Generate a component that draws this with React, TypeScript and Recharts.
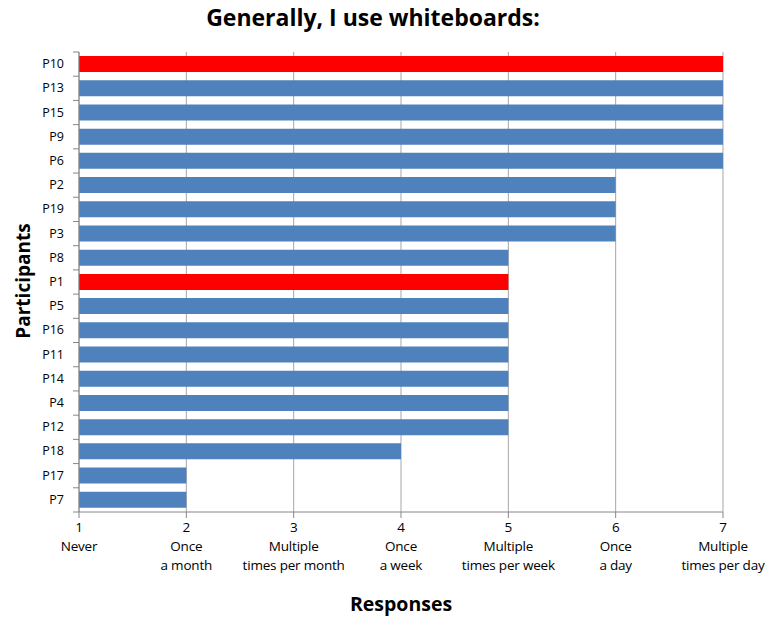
import { BarChart, Bar, Cell, XAxis, YAxis, CartesianGrid } from 'recharts'

// Participants, listed top to bottom
const participants = [
  'P10', 'P13', 'P15', 'P9', 'P6', 'P2', 'P19', 'P3', 'P8', 'P1',
  'P5', 'P16', 'P11', 'P14', 'P4', 'P12', 'P18', 'P17', 'P7',
]
// Response on the 1..7 frequency scale
const responses = [7, 7, 7, 7, 7, 6, 6, 6, 5, 5, 5, 5, 5, 5, 5, 5, 4, 2, 2]
const highlighted = ['P10', 'P1']

const scaleTicks = [1, 2, 3, 4, 5, 6, 7]
const scaleLabels: Record<number, [string, string]> = {
  1: ['Never', ''],
  2: ['Once', 'a month'],
  3: ['Multiple', 'times per month'],
  4: ['Once', 'a week'],
  5: ['Multiple', 'times per week'],
  6: ['Once', 'a day'],
  7: ['Multiple', 'times per day'],
}

const rows = participants.map((name, i) => ({ name, value: responses[i] }))

const W = 769
const H = 621
const TOP = 52
const BOTTOM = 512
const BAND = (BOTTOM - TOP) / participants.length
const FONT = '"Open Sans", "Noto Sans", sans-serif'
const AXIS = '#868686'
const BLUE = '#4f81bd'
const RED = '#ff0000'

function YTick(props: any) {
  const { x, y, payload, index } = props
  return (
    <g>
      <text x={x - 15} y={y} dy={4} textAnchor="end" fontSize={12.5} fontFamily={FONT} fill="#000">
        {payload.value}
      </text>
      <line x1={x - 6} x2={x} y1={y - BAND / 2} y2={y - BAND / 2} stroke={AXIS} />
      {index === participants.length - 1 && (
        <line x1={x - 6} x2={x} y1={y + BAND / 2} y2={y + BAND / 2} stroke={AXIS} />
      )}
    </g>
  )
}

function XTick(props: any) {
  const { x, y, payload } = props
  const [a, b] = scaleLabels[payload.value] || ['', '']
  return (
    <text textAnchor="middle" fontSize={13.5} fontFamily={FONT} fill="#000" letterSpacing={-0.2}>
      <tspan x={x} y={y + 14}>{payload.value}</tspan>
      <tspan x={x} y={y + 33}>{a}</tspan>
      <tspan x={x} y={y + 52}>{b}</tspan>
    </text>
  )
}

export default function App() {
  return (
    <div style={{ position: 'absolute', left: 0, top: 0, width: W, height: H, background: '#fff', fontFamily: FONT }}>
      <div style={{ position: 'absolute', left: 0, width: 746, top: 1, textAlign: 'center', fontSize: 23, fontWeight: 700 }}>
        Generally, I use whiteboards:
      </div>
      <div style={{ position: 'absolute', left: 79, width: 644, top: 590, textAlign: 'center', fontSize: 19.5, fontWeight: 700 }}>
        Responses
      </div>
      <div
        style={{
          position: 'absolute', left: 23, top: 281, transform: 'translate(-50%, -50%) rotate(-90deg)',
          fontSize: 19, fontWeight: 700, whiteSpace: 'nowrap',
        }}
      >
        Participants
      </div>
      <BarChart
        width={W}
        height={H}
        data={rows}
        layout="vertical"
        margin={{ top: TOP, right: 46, bottom: H - BOTTOM - 70, left: 0 }}
        style={{ position: 'absolute', left: 0, top: 0 }}
      >
        <CartesianGrid horizontal={false} stroke="#a6a6a6" />
        <XAxis
          type="number"
          domain={[1, 7]}
          ticks={scaleTicks}
          height={70}
          stroke={AXIS}
          tickSize={6}
          tickMargin={0}
          tick={<XTick />}
          interval={0}
        />
        <YAxis
          type="category"
          dataKey="name"
          width={79}
          stroke={AXIS}
          tickLine={false}
          tickSize={0}
          tickMargin={0}
          tick={<YTick />}
          interval={0}
        />
        <Bar dataKey="value" barSize={16} isAnimationActive={false}>
          {rows.map((r) => (
            <Cell key={r.name} fill={highlighted.includes(r.name) ? RED : BLUE} />
          ))}
        </Bar>
      </BarChart>
    </div>
  )
}
